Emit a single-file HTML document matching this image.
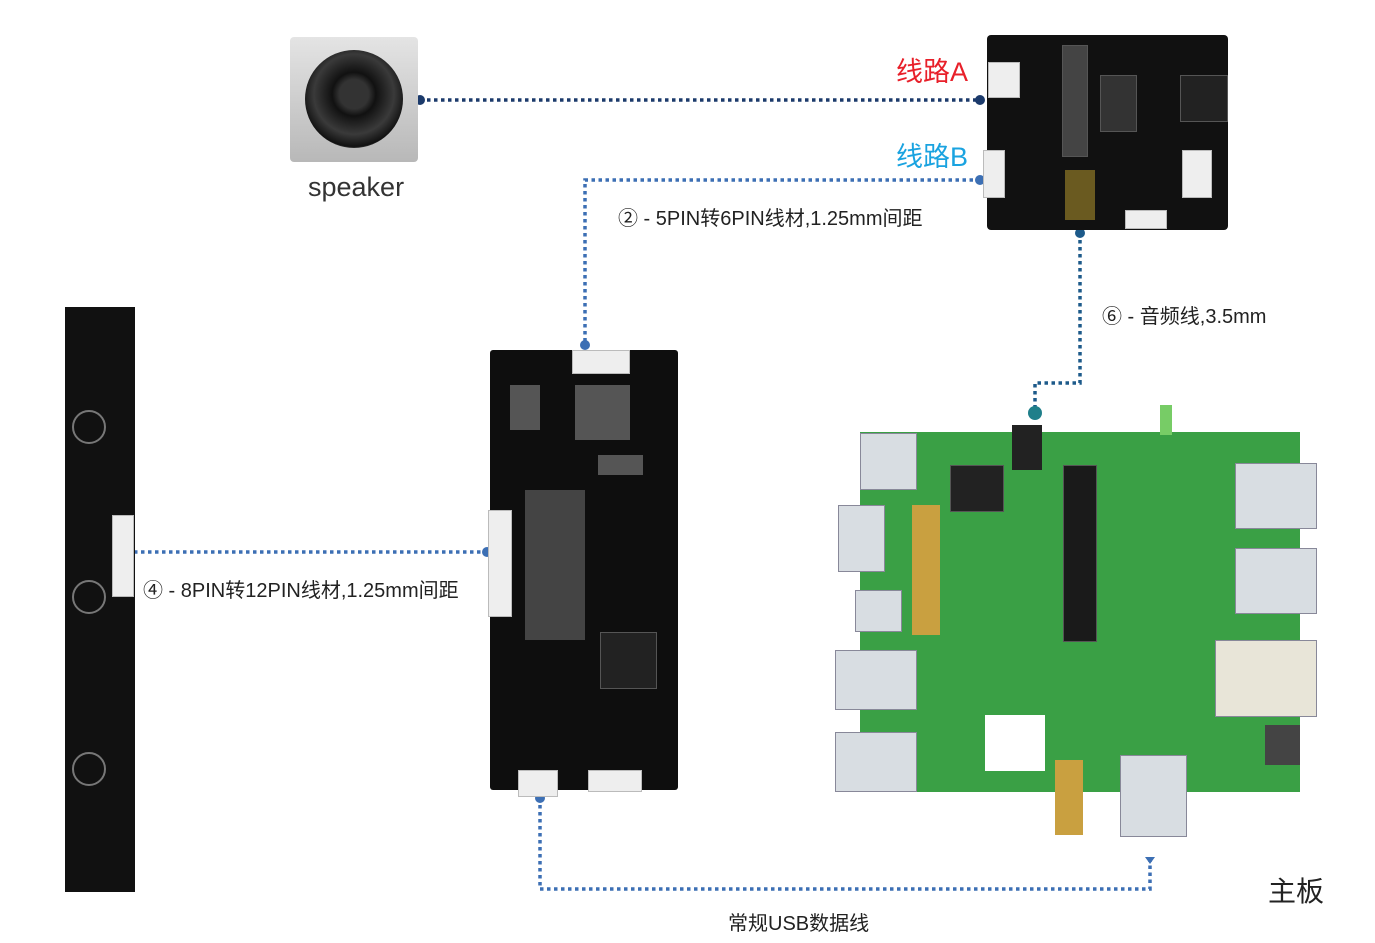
<!DOCTYPE html>
<html><head><meta charset="utf-8"><style>
body{margin:0;width:1375px;height:943px;background:#fff;position:relative;overflow:hidden;font-family:"Liberation Sans","Noto Sans CJK SC",sans-serif;}
.a{position:absolute;}
.t{position:absolute;white-space:nowrap;color:#222;}
.chip{position:absolute;background:#333;border:1px solid #555;}
.comp{position:absolute;background:#9a9a9a;}
.wc{position:absolute;background:#eee;border:1px solid #bbb;}
.usb{position:absolute;background:#d8dde2;border:1px solid #889;}
</style></head><body>
<svg class="a" style="left:0;top:0" width="1375" height="943">
<g fill="none" stroke-width="3.5" stroke-dasharray="3.5,3.5">
<path d="M420 100 H980" stroke="#1b3a6b"/>
<path d="M980 180 H585 V345" stroke="#3c6fb4"/>
<path d="M1080 233 V383 H1035 V413" stroke="#1d5a8a"/>
<path d="M127 552 H487" stroke="#3c6fb4"/>
<path d="M540 798 V889 H1150 V858" stroke="#3c6fb4"/>
</g>
<g fill="#1b3a6b"><circle cx="420" cy="100" r="5"/><circle cx="980" cy="100" r="5"/></g>
<g fill="#3c6fb4"><circle cx="980" cy="180" r="5"/><circle cx="585" cy="345" r="5"/><circle cx="127" cy="552" r="5"/><circle cx="487" cy="552" r="5"/><circle cx="540" cy="798" r="5"/><path d="M1145 857 h10 l-5 7z"/></g>
<circle cx="1080" cy="233" r="5" fill="#1d5a8a"/><circle cx="1035" cy="413" r="7" fill="#1f7f8a"/>
</svg>
<!-- speaker -->
<div class="a" style="left:290px;top:37px;width:128px;height:125px;background:linear-gradient(#e4e4e4,#b8b8b8);border-radius:4px"></div>
<div class="a" style="left:305px;top:50px;width:98px;height:98px;border-radius:50%;background:radial-gradient(circle at 50% 45%,#333 20%,#111 30%,#3a3a3a 55%,#111 72%,#777 78%,#222 85%)"></div>
<div class="t" style="left:308px;top:172px;font-size:27px;color:#333">speaker</div>
<!-- top-right board -->
<div class="a" style="left:987px;top:35px;width:241px;height:195px;background:#111;border-radius:4px"></div>
<div class="wc" style="left:988px;top:62px;width:30px;height:34px"></div>
<div class="wc" style="left:983px;top:150px;width:20px;height:46px"></div>
<div class="wc" style="left:1182px;top:150px;width:28px;height:46px"></div>
<div class="wc" style="left:1125px;top:210px;width:40px;height:17px"></div>
<div class="chip" style="left:1062px;top:45px;width:24px;height:110px;background:#444"></div>
<div class="chip" style="left:1100px;top:75px;width:35px;height:55px"></div>
<div class="chip" style="left:1180px;top:75px;width:46px;height:45px;background:#222"></div>
<div class="a" style="left:1065px;top:170px;width:30px;height:50px;background:#6a5a20"></div>
<div class="t" style="left:896px;top:50px;font-size:27px;color:#e8202a">线路A</div>
<div class="t" style="left:896px;top:135px;font-size:27px;color:#1aa3e0">线路B</div>
<div class="t" style="left:618px;top:202px;font-size:20px">② - 5PIN转6PIN线材,1.25mm间距</div>
<div class="t" style="left:1102px;top:300px;font-size:20px">⑥ - 音频线,3.5mm</div>
<!-- mic strip -->
<div class="a" style="left:65px;top:307px;width:70px;height:585px;background:#111"></div>
<div class="a" style="left:72px;top:410px;width:30px;height:30px;border:2px solid #777;border-radius:50%"></div>
<div class="a" style="left:72px;top:580px;width:30px;height:30px;border:2px solid #777;border-radius:50%"></div>
<div class="a" style="left:72px;top:752px;width:30px;height:30px;border:2px solid #777;border-radius:50%"></div>
<div class="wc" style="left:112px;top:515px;width:20px;height:80px"></div>
<div class="t" style="left:143px;top:574px;font-size:20px">④ - 8PIN转12PIN线材,1.25mm间距</div>
<!-- middle board -->
<div class="a" style="left:490px;top:350px;width:188px;height:440px;background:#0e0e0e;border-radius:3px"></div>
<div class="wc" style="left:572px;top:350px;width:56px;height:22px"></div>
<div class="wc" style="left:488px;top:510px;width:22px;height:105px"></div>
<div class="wc" style="left:518px;top:770px;width:38px;height:25px"></div>
<div class="wc" style="left:588px;top:770px;width:52px;height:20px"></div>
<div class="chip" style="left:600px;top:632px;width:55px;height:55px;background:#222"></div>
<div class="comp" style="left:510px;top:385px;width:30px;height:45px;background:#555"></div>
<div class="comp" style="left:575px;top:385px;width:55px;height:55px;background:#555"></div>
<div class="comp" style="left:525px;top:490px;width:60px;height:150px;background:#444"></div>
<div class="comp" style="left:598px;top:455px;width:45px;height:20px;background:#555"></div>
<!-- main board -->
<div class="a" style="left:860px;top:432px;width:440px;height:360px;background:#3aa045"></div>
<div class="a" style="left:1160px;top:405px;width:12px;height:30px;background:#7c6"></div>
<div class="chip" style="left:950px;top:465px;width:52px;height:45px;background:#222"></div>
<div class="chip" style="left:1063px;top:465px;width:32px;height:175px;background:#1a1a1a"></div>
<div class="a" style="left:912px;top:505px;width:28px;height:130px;background:#c9a040"></div>
<div class="usb" style="left:860px;top:433px;width:55px;height:55px"></div>
<div class="usb" style="left:838px;top:505px;width:45px;height:65px"></div>
<div class="usb" style="left:855px;top:590px;width:45px;height:40px"></div>
<div class="usb" style="left:835px;top:650px;width:80px;height:58px"></div>
<div class="usb" style="left:835px;top:732px;width:80px;height:58px"></div>
<div class="usb" style="left:1235px;top:463px;width:80px;height:64px"></div>
<div class="usb" style="left:1235px;top:548px;width:80px;height:64px"></div>
<div class="usb" style="left:1215px;top:640px;width:100px;height:75px;background:#e8e5d8"></div>
<div class="usb" style="left:1120px;top:755px;width:65px;height:80px"></div>
<div class="a" style="left:985px;top:715px;width:60px;height:56px;background:#fff"></div>
<div class="a" style="left:1055px;top:760px;width:28px;height:75px;background:#c9a040"></div>
<div class="a" style="left:1012px;top:425px;width:30px;height:45px;background:#222"></div>
<div class="a" style="left:1265px;top:725px;width:35px;height:40px;background:#444"></div>
<div class="t" style="left:1268px;top:870px;font-size:28px">主板</div>
<div class="t" style="left:728px;top:907px;font-size:20px">常规USB数据线</div>
</body></html>
